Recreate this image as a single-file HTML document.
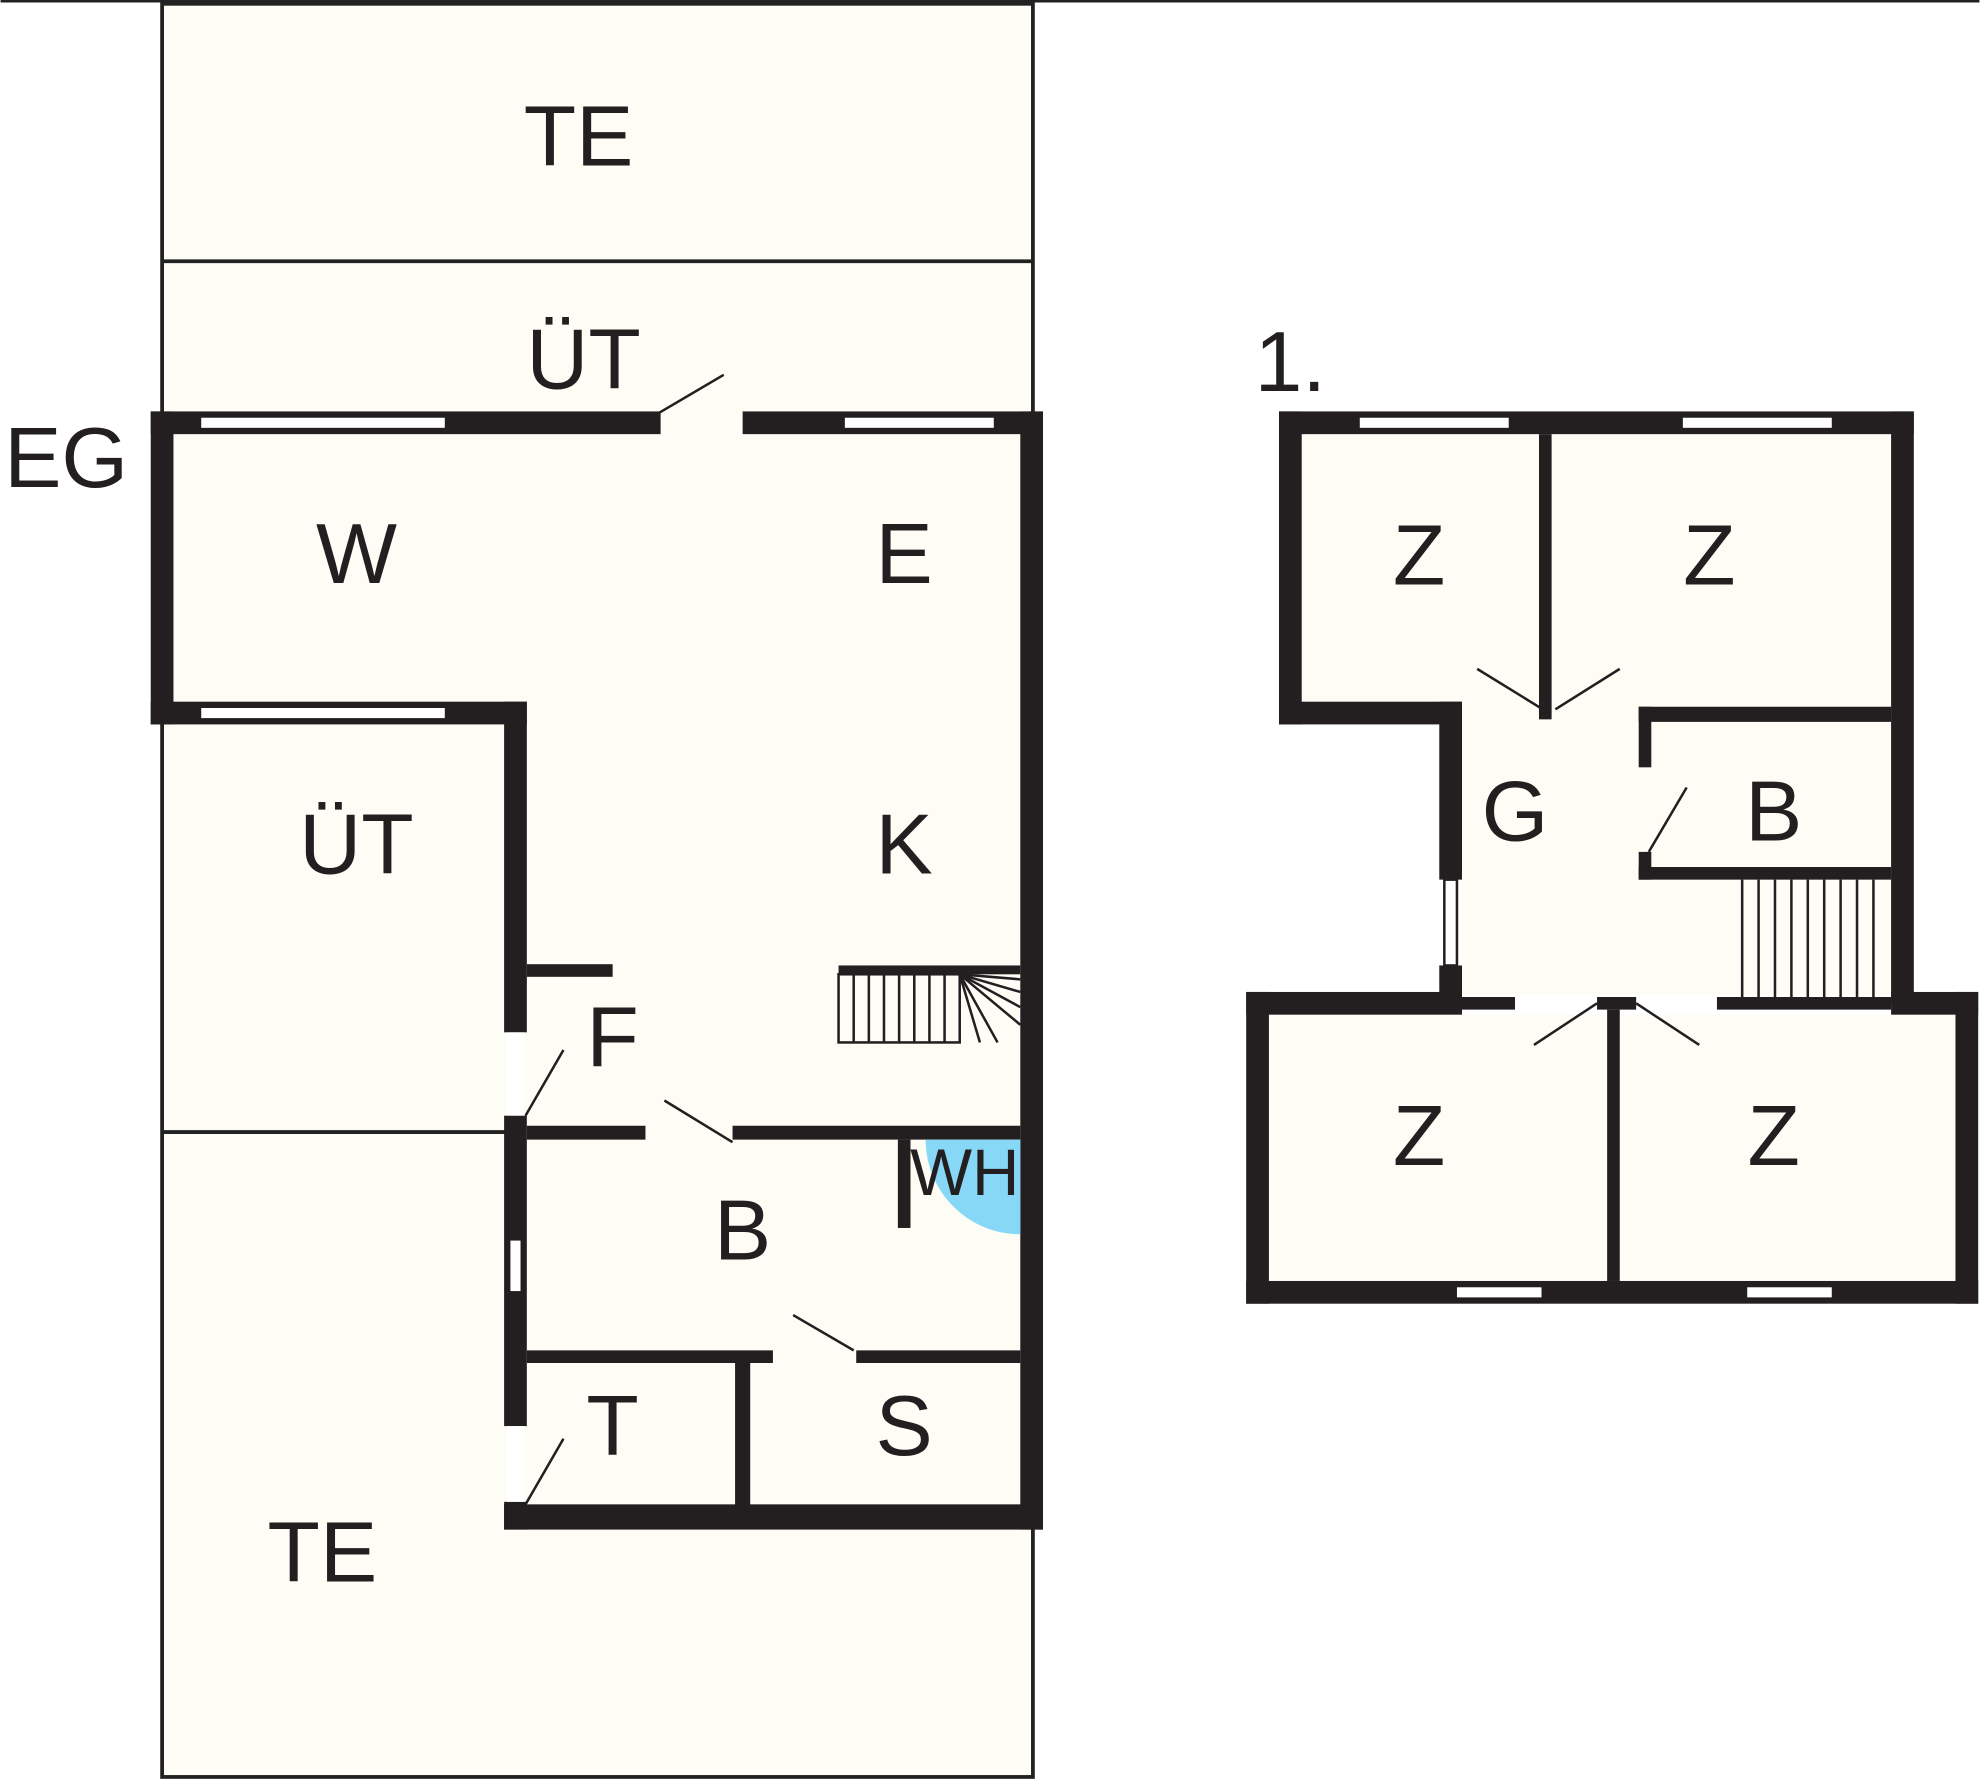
<!DOCTYPE html>
<html><head><meta charset="utf-8"><style>html,body{margin:0;padding:0;background:#fff}svg{display:block}</style></head><body>
<svg width="1980" height="1782" viewBox="0 0 1568 1412" xmlns="http://www.w3.org/2000/svg" font-family="Liberation Sans, sans-serif" font-size="68">
<line x1="0" y1="1" x2="1568" y2="1" stroke="#222" stroke-width="2"/>
<rect x="128" y="3" width="690" height="1405" fill="#fdfdf6" stroke="#222" stroke-width="3"/>
<line x1="128" y1="207" x2="818" y2="207" stroke="#222" stroke-width="3"/>
<line x1="128" y1="897" x2="400" y2="897" stroke="#222" stroke-width="3"/>
<rect x="1005" y="804" width="544" height="211" fill="#fdfdf6"/>
<rect x="1031" y="344" width="467" height="212" fill="#fdfdf6"/>
<rect x="1158" y="556" width="340" height="232" fill="#fdfdf6"/>
<g fill="#231f20">
<rect x="119" y="326" width="404" height="18"/>
<rect x="588" y="326" width="238" height="18"/>
<rect x="119" y="326" width="18" height="248"/>
<rect x="119" y="556" width="298" height="18"/>
<rect x="399" y="556" width="18" height="262"/>
<rect x="399" y="884" width="18" height="246"/>
<rect x="399" y="1190" width="18" height="22"/>
<rect x="808" y="326" width="18" height="886"/>
<rect x="417" y="764" width="68" height="10"/>
<rect x="417" y="892" width="94" height="11"/>
<rect x="580" y="892" width="228" height="11"/>
<rect x="417" y="1070" width="195" height="10"/>
<rect x="678" y="1070" width="130" height="10"/>
<rect x="582" y="1075" width="12" height="120"/>
<rect x="399" y="1192" width="427" height="20"/>
<rect x="711" y="903" width="10" height="70"/>
<rect x="664" y="765" width="144" height="7"/>
<rect x="1013" y="326" width="503" height="18"/>
<rect x="1013" y="326" width="18" height="248"/>
<rect x="1013" y="556" width="145" height="18"/>
<rect x="1140" y="556" width="18" height="141"/>
<rect x="1140" y="765" width="18" height="30"/>
<rect x="1498" y="326" width="18" height="470"/>
<rect x="1219" y="344" width="10" height="226"/>
<rect x="1298" y="560" width="200" height="12"/>
<rect x="1298" y="560" width="10" height="48"/>
<rect x="1298" y="675" width="10" height="22"/>
<rect x="1298" y="687" width="200" height="10"/>
<rect x="987" y="786" width="171" height="18"/>
<rect x="1158" y="790" width="42" height="10"/>
<rect x="1265" y="790" width="31" height="10"/>
<rect x="1360" y="790" width="138" height="10"/>
<rect x="1498" y="786" width="69" height="18"/>
<rect x="987" y="786" width="18" height="247"/>
<rect x="1549" y="786" width="18" height="247"/>
<rect x="987" y="1015" width="580" height="18"/>
<rect x="1273" y="800" width="10" height="215"/>
</g>
<g fill="#fff" stroke="#231f20" stroke-width="2">
<rect x="158" y="330" width="195" height="10"/>
<rect x="668" y="330" width="120" height="10"/>
<rect x="158" y="560" width="195" height="10"/>
<rect x="403" y="982" width="10" height="42"/>
<rect x="1076" y="330" width="120" height="10"/>
<rect x="1332" y="330" width="120" height="10"/>
<rect x="1153" y="1019" width="69" height="10"/>
<rect x="1383" y="1019" width="69" height="10"/>
<rect x="1144" y="697" width="10" height="68"/>
</g>
<rect x="401" y="818" width="14" height="66" fill="#fff"/>
<rect x="401" y="1130" width="14" height="60" fill="#fff"/>
<path d="M808 903 L808 978 A75 75 0 0 1 733 903 Z" fill="#87d8f7"/>
<rect x="664" y="772" width="96" height="54" fill="none" stroke="#231f20" stroke-width="2"/>
<g stroke="#231f20" stroke-width="2">
<line x1="676" y1="772" x2="676" y2="826"/><line x1="688" y1="772" x2="688" y2="826"/><line x1="700" y1="772" x2="700" y2="826"/><line x1="712" y1="772" x2="712" y2="826"/><line x1="724" y1="772" x2="724" y2="826"/><line x1="736" y1="772" x2="736" y2="826"/><line x1="748" y1="772" x2="748" y2="826"/>
<line x1="760" y1="772" x2="808" y2="776"/><line x1="760" y1="772" x2="808" y2="786"/><line x1="760" y1="772" x2="808" y2="798"/><line x1="760" y1="772" x2="808" y2="812"/><line x1="760" y1="772" x2="790" y2="826"/><line x1="760" y1="772" x2="776" y2="826"/>
<line x1="522" y1="327" x2="573" y2="297"/>
<line x1="416" y1="884" x2="446" y2="832"/>
<line x1="416" y1="1192" x2="446" y2="1140"/>
<line x1="526" y1="872" x2="580" y2="905"/>
<line x1="628" y1="1042" x2="676" y2="1070"/>
<line x1="1170" y1="530" x2="1222" y2="562"/>
<line x1="1232" y1="562" x2="1283" y2="530"/>
<line x1="1215" y1="828" x2="1265" y2="795"/>
<line x1="1296" y1="795" x2="1346" y2="828"/>
<line x1="1306" y1="675" x2="1336" y2="624"/>
<line x1="1380" y1="697" x2="1380" y2="790"/><line x1="1393" y1="697" x2="1393" y2="790"/><line x1="1406" y1="697" x2="1406" y2="790"/><line x1="1419" y1="697" x2="1419" y2="790"/><line x1="1432" y1="697" x2="1432" y2="790"/><line x1="1445" y1="697" x2="1445" y2="790"/><line x1="1458" y1="697" x2="1458" y2="790"/><line x1="1471" y1="697" x2="1471" y2="790"/><line x1="1484" y1="697" x2="1484" y2="790"/>
</g>
<g fill="#231f20" text-anchor="middle">
<text x="458" y="131">TE</text>
<text x="462" y="308">ÜT</text>
<text x="52" y="386">EG</text>
<text x="282" y="462">W</text>
<text x="716" y="462">E</text>
<text x="282" y="692">ÜT</text>
<text x="716" y="692">K</text>
<text x="485" y="845">F</text>
<text x="588" y="998">B</text>
<text x="764" y="947" font-size="52">WH</text>
<text x="485" y="1153">T</text>
<text x="716" y="1153">S</text>
<text x="255" y="1253">TE</text>
<text x="1022" y="310">1.</text>
<text x="1124" y="463">Z</text>
<text x="1354" y="463">Z</text>
<text x="1200" y="666">G</text>
<text x="1405" y="666">B</text>
<text x="1124" y="923">Z</text>
<text x="1405" y="923">Z</text>
</g>
</svg>
</body></html>
